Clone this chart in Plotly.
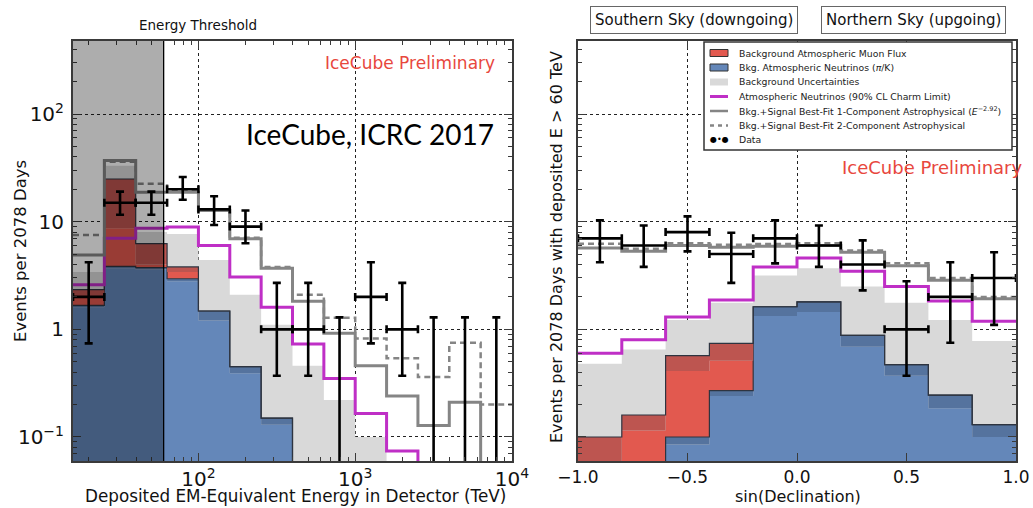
import plotly.graph_objects as go

# ---------------- Left panel: deposited energy ----------------
e_edges = [15.85, 25.12, 39.81, 63.10, 100.0, 158.5, 251.2, 398.1, 631.0,
           1000.0, 1585.0, 2512.0, 3981.0, 6310.0, 10000.0]
e_blue_lo = [1.60, 3.70, 3.60, 2.80, 1.21, 0.39, 0.13, 0, 0, 0, 0, 0, 0, 0]
e_blue_hi = [1.67, 3.85, 3.74, 2.95, 1.48, 0.45, 0.15, 0, 0, 0, 0, 0, 0, 0]
e_muon_lo = [2.00, 8.70, 4.00, 3.40, 1.48, 0.45, 0.15, 0, 0, 0, 0, 0, 0, 0]
e_muon_hi = [2.34, 24.9, 6.25, 3.80, 1.48, 0.45, 0.15, 0, 0, 0, 0, 0, 0, 0]
e_unc_hi = [3.4, 33.0, 8.0, 7.7, 4.4, 2.1, 1.1, 0.46, 0.22, 0.10, 0.05, 0.03, 0.02, 0.01]
e_charm = [2.6, 7.0, 8.7, 8.9, 6.0, 3.06, 1.6, 0.73, 0.35, 0.165, 0.074, 0.04, 0.02, 0.01]
e_fit1 = [4.9, 37.0, 18.8, 18.8, 12.7, 6.95, 3.7, 1.82, 0.92, 0.46, 0.24, 0.128, 0.21, 0.0]
e_fit2 = [7.5, 36.0, 22.5, 19.8, 12.9, 7.1, 3.8, 2.1, 1.28, 0.82, 0.54, 0.36, 0.75, 0.2]
e_data = [2, 15, 15, 20, 13, 9, 1, 1, 0, 2, 1, 0, 0, 0]
e_data_up = [4.2, 19.0, 19.0, 26.0, 17.2, 12.7, 2.7, 2.7, 1.29, 4.2, 2.7, 1.29, 1.29, 1.29]
e_data_dn = [0.74, 11.6, 11.6, 16.0, 9.3, 6.3, 0.37, 0.37, 0, 0.74, 0.37, 0, 0, 0]
threshold_tev = 60

# ---------------- Right panel: sin(declination) ----------------
d_edges = [-1.0, -0.8, -0.6, -0.4, -0.2, 0.0, 0.2, 0.4, 0.6, 0.8, 1.0]
d_blue_lo = [0, 0, 0.085, 0.24, 1.33, 1.45, 0.69, 0.37, 0.185, 0.10]
d_blue_hi = [0, 0, 0.10, 0.27, 1.62, 1.80, 0.88, 0.47, 0.245, 0.13]
d_muon_lo = [0.03, 0.115, 0.41, 0.51, 1.62, 1.80, 0.88, 0.47, 0.245, 0.13]
d_muon_hi = [0.10, 0.16, 0.57, 0.74, 1.62, 1.80, 0.88, 0.47, 0.245, 0.13]
d_unc_hi = [0.48, 0.65, 1.22, 1.77, 3.16, 3.7, 2.5, 1.77, 1.22, 0.78]
d_charm = [0.6, 0.8, 1.3, 1.87, 3.8, 4.6, 3.47, 2.5, 1.83, 1.19]
d_fit1 = [5.7, 5.3, 6.0, 5.8, 5.9, 6.0, 5.2, 3.9, 2.85, 1.92]
d_fit2 = [6.25, 5.6, 6.3, 6.1, 6.2, 6.3, 5.4, 4.1, 3.0, 2.0]
d_data = [7, 6, 8, 5, 7, 6, 4, 1, 2, 3]
d_data_up = [10.3, 9.2, 11.2, 7.9, 10.3, 9.2, 6.7, 2.8, 4.2, 5.2]
d_data_dn = [4.2, 3.8, 5.3, 2.7, 4.1, 3.8, 2.3, 0.37, 0.75, 1.1]

legend_labels = [
    "Background Atmospheric Muon Flux",
    "Bkg. Atmospheric Neutrinos (<i>π</i>/K)",
    "Background Uncertainties",
    "Atmospheric Neutrinos (90% CL Charm Limit)",
    "Bkg.+Signal Best-Fit 1-Component Astrophysical (<i>E</i><sup>−2.92</sup>)",
    "Bkg.+Signal Best-Fit 2-Component Astrophysical",
    "Data",
]

C_BLUE = "#6487b9"
C_BLUE_D = "#55739e"
C_RED = "#e2594f"
C_RED_D = "#bd5550"
C_UNC = "#d9d9d9"
C_MAG = "#bf2fc6"
C_GRAY = "#858585"
C_EDGE = "#2e3440"
TINY = 1e-4

W, H = 1033, 508
fig = go.Figure()


def pos(v):
    return [a if a > 0 else TINY for a in v]


def step(edges, vals):
    v = pos(vals)
    return list(edges), v + [v[-1]]


def add_hist_panel(edges, blue_lo, blue_hi, muon_lo, muon_hi, unc, charm, fit1, fit2, xa, ya):
    base_x, base_y = step(edges, [TINY] * (len(edges) - 1))
    common = dict(xaxis=xa, yaxis=ya, mode="lines", line_shape="hv", hoverinfo="skip", showlegend=False)
    fig.add_trace(go.Scatter(x=base_x, y=base_y, line=dict(width=0), **common))
    x, y = step(edges, unc)
    fig.add_trace(go.Scatter(x=x, y=y, fill="tonexty", fillcolor=C_UNC, line=dict(width=0), **common))
    fig.add_trace(go.Scatter(x=base_x, y=base_y, line=dict(width=0), **common))
    x, y = step(edges, blue_lo)
    fig.add_trace(go.Scatter(x=x, y=y, fill="tonexty", fillcolor=C_BLUE, line=dict(width=0), **common))
    x, y = step(edges, blue_hi)
    fig.add_trace(go.Scatter(x=x, y=y, fill="tonexty", fillcolor=C_BLUE_D, line=dict(width=1.2, color=C_EDGE), **common))
    x, y = step(edges, muon_lo)
    fig.add_trace(go.Scatter(x=x, y=y, fill="tonexty", fillcolor=C_RED, line=dict(width=0), **common))
    x, y = step(edges, muon_hi)
    fig.add_trace(go.Scatter(x=x, y=y, fill="tonexty", fillcolor=C_RED_D, line=dict(width=1.2, color=C_EDGE), **common))
    x, y = step(edges, charm)
    fig.add_trace(go.Scatter(x=x, y=y, line=dict(width=3, color=C_MAG), **common))
    x, y = step(edges, fit1)
    fig.add_trace(go.Scatter(x=x, y=y, line=dict(width=3, color=C_GRAY), **common))
    x, y = step(edges, fit2)
    fig.add_trace(go.Scatter(x=x, y=y, line=dict(width=2.5, color=C_GRAY, dash="6px,4px"), **common))


def add_data(edges, centers, counts, up, dn, xa, ya):
    xs, ys, ep, em, xp, xm = [], [], [], [], [], []
    zx, zy, zm = [], [], []
    for i, c in enumerate(counts):
        if c > 0:
            xs.append(centers[i]); ys.append(c)
            ep.append(up[i] - c); em.append(c - dn[i])
            xp.append(edges[i + 1] - centers[i]); xm.append(centers[i] - edges[i])
        else:
            zx.append(centers[i]); zy.append(up[i]); zm.append(up[i] - TINY)
    eb = dict(color="black", thickness=2.6, width=4)
    fig.add_trace(go.Scatter(
        x=xs, y=ys, xaxis=xa, yaxis=ya, mode="markers", marker=dict(size=2, color="black"),
        error_y=dict(type="data", symmetric=False, array=ep, arrayminus=em, **eb),
        error_x=dict(type="data", symmetric=False, array=xp, arrayminus=xm, **eb),
        hoverinfo="skip", showlegend=False))
    if zx:
        fig.add_trace(go.Scatter(
            x=zx, y=zy, xaxis=xa, yaxis=ya, mode="markers", marker=dict(size=1, color="black"),
            error_y=dict(type="data", symmetric=False, array=[0] * len(zx), arrayminus=zm, **eb),
            hoverinfo="skip", showlegend=False))


add_hist_panel(e_edges, e_blue_lo, e_blue_hi, e_muon_lo, e_muon_hi, e_unc_hi, e_charm, e_fit1, e_fit2, "x", "y")
e_centers = [(e_edges[i] * e_edges[i + 1]) ** 0.5 for i in range(len(e_edges) - 1)]
add_data(e_edges, e_centers, e_data, e_data_up, e_data_dn, "x", "y")

add_hist_panel(d_edges, d_blue_lo, d_blue_hi, d_muon_lo, d_muon_hi, d_unc_hi, d_charm, d_fit1, d_fit2, "x2", "y2")
d_centers = [(d_edges[i] + d_edges[i + 1]) / 2 for i in range(len(d_edges) - 1)]
add_data(d_edges, d_centers, d_data, d_data_up, d_data_dn, "x2", "y2")

# ---------------- axes ----------------
ax_common = dict(showline=True, linecolor="#3a3a3a", linewidth=1.6, mirror="ticks",
                 ticks="inside", ticklen=8, tickwidth=1, tickcolor="#3a3a3a",
                 showgrid=True, gridcolor="#222", griddash="dot", gridwidth=0.8,
                 zeroline=False, automargin=False)
tf16 = dict(size=16, family="DejaVu Sans", color="#111")
minor = dict(ticks="inside", ticklen=4, tickcolor="#3a3a3a", showgrid=False)
y_range = [-1.223, 2.678]
fig.update_layout(
    width=W, height=H, margin=dict(l=0, r=0, t=0, b=0, pad=0, autoexpand=False),
    paper_bgcolor="white", plot_bgcolor="white", showlegend=False,
    font=dict(family="DejaVu Sans", color="black"),
    xaxis=dict(domain=[73 / W, 512 / W], type="log", range=[1.2, 4.0], dtick=1,
               exponentformat="power", anchor="y", minor=minor, tickfont=tf16, **ax_common),
    yaxis=dict(domain=[1 - 461 / H, 1 - 41 / H], type="log", range=y_range, dtick=1,
               exponentformat="power", anchor="x", ticklabelstandoff=4, minor=minor,
               tickfont=tf16, **ax_common),
    xaxis2=dict(domain=[578 / W, 1016 / W], range=[-1.0, 1.0], tick0=-1.0, dtick=0.5,
                tickformat=".1f", anchor="y2", tickfont=dict(size=17, family="DejaVu Sans", color="#111"),
                **ax_common),
    yaxis2=dict(domain=[1 - 461 / H, 1 - 41 / H], type="log", range=y_range, dtick=1,
                showticklabels=False, anchor="x2", minor=minor, tickfont=tf16, **ax_common),
)

shapes = []
shapes.append(dict(type="rect", xref="x", yref="y domain", x0=e_edges[0], x1=threshold_tev, y0=0, y1=1,
                   fillcolor="rgba(0,0,0,0.32)", line=dict(width=0), layer="above"))
shapes.append(dict(type="line", xref="x", yref="y domain", x0=threshold_tev, x1=threshold_tev, y0=0, y1=1,
                   line=dict(color="black", width=1.3), layer="above"))


def px(xp):
    return xp / W


def py(yp):
    return 1 - yp / H


shapes.append(dict(type="rect", xref="paper", yref="paper", x0=px(704), x1=px(1012), y0=py(150), y1=py(42),
                   fillcolor="white", line=dict(color="#333", width=1.5), layer="above"))
rows = [53, 67.5, 82, 96.5, 111, 125.5, 140]
patch_cols = [(C_RED, "#333"), (C_BLUE, "#333"), (C_UNC, None)]
for i, (fc, lc) in enumerate(patch_cols):
    shapes.append(dict(type="rect", xref="paper", yref="paper", x0=px(710), x1=px(728),
                       y0=py(rows[i] + 3.5), y1=py(rows[i] - 3.5), fillcolor=fc,
                       line=dict(color=lc or fc, width=1 if lc else 0), layer="above"))
shapes.append(dict(type="line", xref="paper", yref="paper", x0=px(710), x1=px(728), y0=py(rows[3]), y1=py(rows[3]),
                   line=dict(color=C_MAG, width=3), layer="above"))
shapes.append(dict(type="line", xref="paper", yref="paper", x0=px(710), x1=px(728), y0=py(rows[4]), y1=py(rows[4]),
                   line=dict(color=C_GRAY, width=2.5), layer="above"))
shapes.append(dict(type="line", xref="paper", yref="paper", x0=px(710), x1=px(728), y0=py(rows[5]), y1=py(rows[5]),
                   line=dict(color=C_GRAY, width=2.5, dash="4px,4px"), layer="above"))
fig.update_layout(shapes=shapes)


def note(xp, yp, text, size, color="#111", family=None, xanchor="center", **kw):
    f = dict(size=size, color=color)
    if family:
        f["family"] = family
    return dict(xref="paper", yref="paper", x=px(xp), y=py(yp), text=text, showarrow=False,
                xanchor=xanchor, yanchor="middle", font=f, **kw)


ann = []
for i, lab in enumerate(legend_labels):
    ann.append(note(737, rows[i], lab, 9.3, color="#222", xanchor="left"))
ann.append(note(719, rows[6], "●•●", 8, color="black"))

ann += [
    note(198, 25, "Energy Threshold", 13.5),
    note(497, 63, "IceCube Preliminary", 17, color="#e8473d", xanchor="right"),
    note(370, 134, "IceCube, ICRC 2017", 28, color="black", family="Lato"),
    note(1024, 167, "IceCube Preliminary", 18, color="#e8473d", xanchor="right"),
    note(20, 251, "Events per 2078 Days", 16.5, textangle=-90),
    note(556, 247, "Events per 2078 Days with deposited E > 60 TeV", 16, textangle=-90),
    note(295, 496, "Deposited EM-Equivalent Energy in Detector (TeV)", 16.8),
    note(798, 496, "sin(Declination)", 16),
    note(693.5, 19.5, "Southern Sky (downgoing)", 15, bordercolor="#666", borderwidth=1, borderpad=4,
         bgcolor="white"),
    note(913.5, 19.5, "Northern Sky (upgoing)", 15, bordercolor="#666", borderwidth=1, borderpad=4,
         bgcolor="white"),
]
fig.update_layout(annotations=ann)

fig.write_html("out.html")
